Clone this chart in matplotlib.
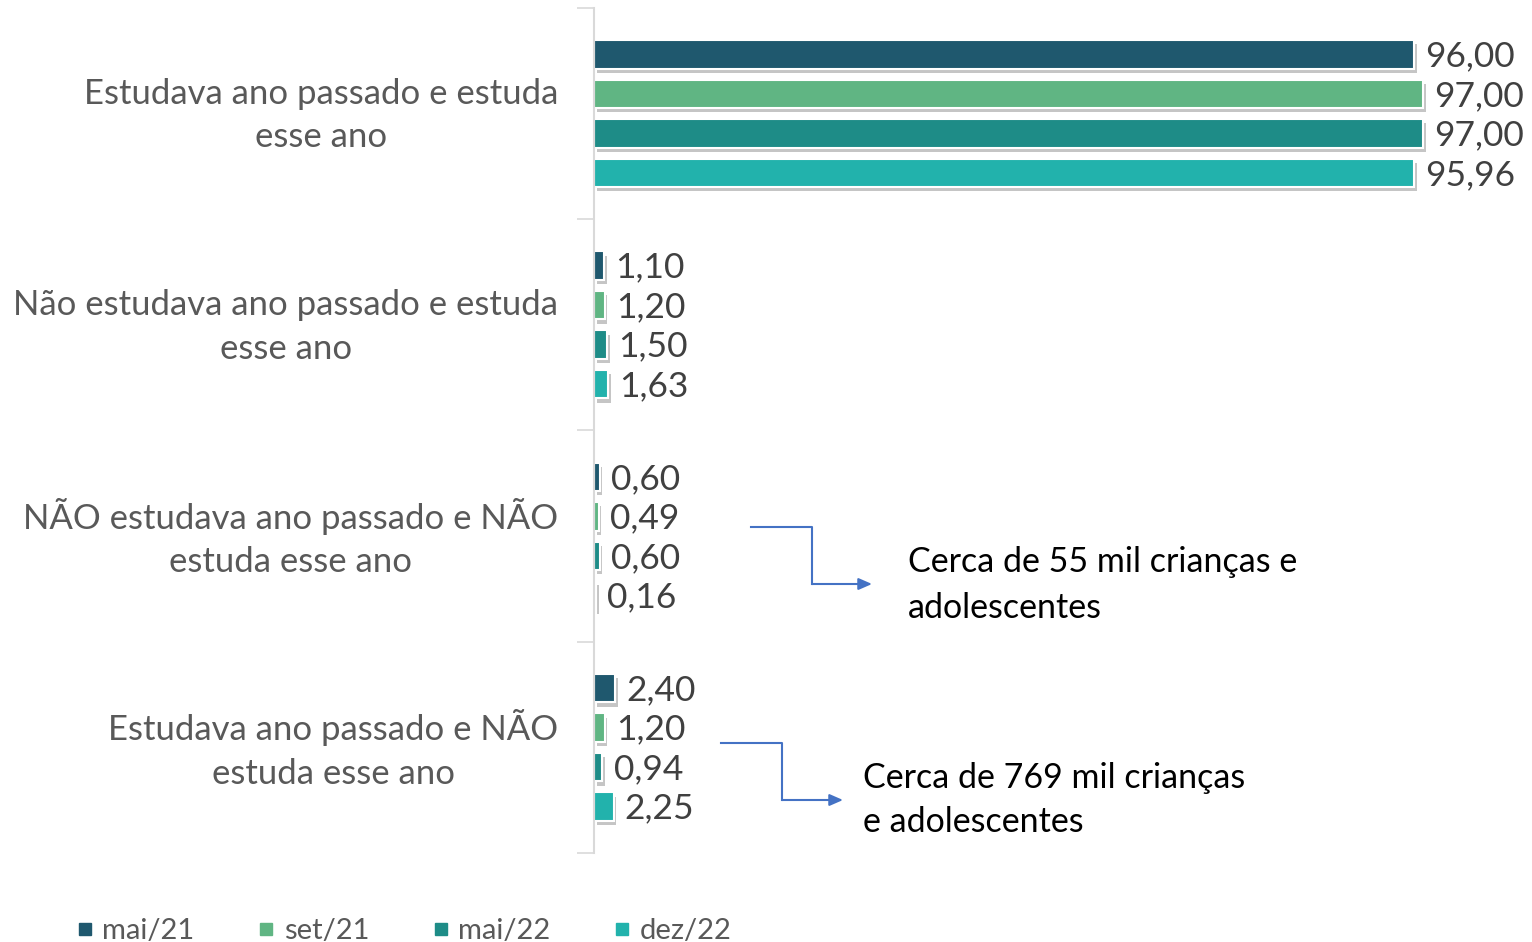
import numpy as np
import matplotlib.pyplot as plt
import matplotlib.patheffects as pe
import matplotlib.transforms as mtransforms
from matplotlib.lines import Line2D

plt.rcParams['font.family'] = ['Lato', 'DejaVu Sans']

# --------- Data ---------
categories = ['Estudava ano passado e estuda\nesse ano',
              'Não estudava ano passado e estuda\nesse ano',
              'NÃO estudava ano passado e NÃO\nestuda esse ano',
              'Estudava ano passado e NÃO\nestuda esse ano']
series = ['mai/21', 'set/21', 'mai/22', 'dez/22']
mai21 = [96.00, 1.10, 0.60, 2.40]
set21 = [97.00, 1.20, 0.49, 1.20]
mai22 = [97.00, 1.50, 0.60, 0.94]
dez22 = [95.96, 1.63, 0.16, 2.25]
colors = ['#1f586e', '#60b583', '#1e8c87', '#22b2ac']

values = [mai21, set21, mai22, dez22]

# --------- Plot ---------
fig = plt.figure(figsize=(15.32, 9.42), dpi=100)
ax = fig.add_axes([0.388, 0.0945, 0.602, 0.897])

y = np.arange(len(categories))
step = 0.187
shadow = [pe.SimplePatchShadow(offset=(2, -3), shadow_rgbFace='#7f7f7f', alpha=0.45), pe.Normal()]
for i, (vals, col) in enumerate(zip(values, colors)):
    pos = y + (i - 1.5) * step
    bars = ax.barh(pos, vals, height=0.135, color=col, edgecolor='white', linewidth=1.5)
    for b in bars:
        b.set_path_effects(shadow)
    for p, v in zip(pos, vals):
        ax.annotate(f'{v:.2f}'.replace('.', ','), (v, p), xytext=(8, -1.5), textcoords='offset points',
                    va='center', ha='left', fontsize=25.5, color='#404040')

ax.set_xlim(0, 108)
ax.set_ylim(len(categories) - 0.5, -0.5)
ax.set_yticks(y)
ax.set_yticklabels(categories, fontsize=25, color='#595959', ha='right', multialignment='center',
                   linespacing=1.45)
ax.tick_params(axis='y', which='major', length=0, pad=26)
shift = mtransforms.ScaledTranslation(0, 7 / 100, fig.dpi_scale_trans)
for lab in ax.get_yticklabels():
    lab.set_transform(lab.get_transform() + shift)
ax.set_yticks(np.arange(len(categories) + 1) - 0.5, minor=True)
ax.tick_params(axis='y', which='minor', length=12, color='#d9d9d9', width=1.2)
ax.set_xticks([])
for s in ['top', 'right', 'bottom']:
    ax.spines[s].set_visible(False)
ax.spines['left'].set_color('#d9d9d9')
ax.spines['left'].set_linewidth(1.5)

# --------- Annotations ---------
H = 942
blue = '#4472c4'
for (x0, x1, x2, ya, yb), txt, tx, ty in [
        ((751, 812, 872, 527, 584), 'Cerca de 55 mil crianças e\nadolescentes', 908, 585),
        ((721, 782, 843, 743, 800), 'Cerca de 769 mil crianças\ne adolescentes', 863, 800)]:
    fig.add_artist(Line2D([x0 / 1532, x1 / 1532, x1 / 1532], [1 - ya / H, 1 - ya / H, 1 - yb / H],
                          color=blue, lw=1.5))
    ax.annotate('', xy=(x2, H - yb), xycoords='figure pixels', xytext=(x1, H - yb), textcoords='figure pixels',
                arrowprops=dict(arrowstyle='-|>,head_length=0.8,head_width=0.35', color=blue, lw=1.5,
                                shrinkA=0, shrinkB=0))
    fig.text(tx / 1532, 1 - ty / H, txt, fontsize=24.5, color='black', va='center', ha='left', linespacing=1.5)

# --------- Legend ---------
handles = [Line2D([], [], marker='s', linestyle='', markersize=8, color=c) for c in colors]
fig.legend(handles, series, loc='lower left', bbox_to_anchor=(0.0326, -0.0305), ncol=4, frameon=False,
           fontsize=21, labelcolor='#595959', handletextpad=0.3, columnspacing=2.15, handlelength=0.6)

plt.savefig('out.png', dpi=100)
